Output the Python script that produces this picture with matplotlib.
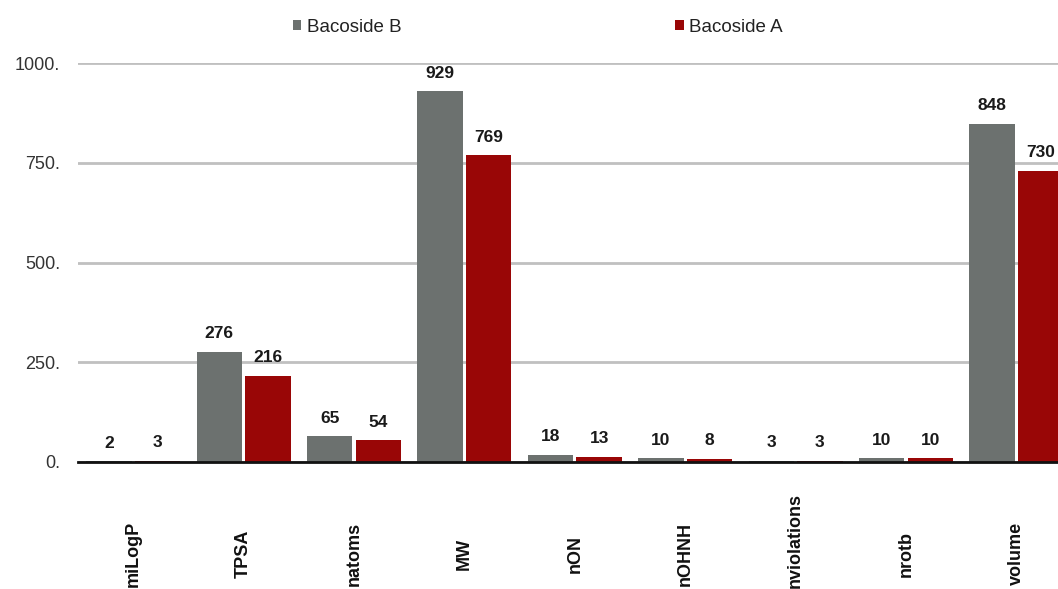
import matplotlib
matplotlib.use("Agg")
import matplotlib.pyplot as plt
import matplotlib.transforms as mtransforms
import numpy as np
from matplotlib.ticker import FuncFormatter

# Descriptor values for the two compounds
properties = ["miLogP", "TPSA", "natoms", "MW", "nON", "nOHNH",
              "nviolations", "nrotb", "volume"]
bacoside_b = [2, 276, 65, 929, 18, 10, 3, 10, 848]
bacoside_a = [3, 216, 54, 769, 13, 8, 3, 10, 730]
y_ticks = [0, 250, 500, 750, 1000]

GREY = "#6c716f"
RED = "#990606"
BAR_W = 0.41
OFFSET = 0.22

plt.rcParams["font.family"] = ["Liberation Sans", "DejaVu Sans"]

W, H = 1058, 589
fig = plt.figure(figsize=(W / 100, H / 100), dpi=100)
# axes run past the right edge of the figure, so the last bar is cut off
ax = fig.add_axes([78 / W, (H - 462) / H, 993.6 / W, 399 / H])

x = np.arange(len(properties))
bars_b = ax.bar(x - OFFSET, bacoside_b, BAR_W, color=GREY, label="Bacoside B", zorder=3)
bars_a = ax.bar(x + OFFSET, bacoside_a, BAR_W, color=RED, label="Bacoside A", zorder=3)

for bars, vals in ((bars_b, bacoside_b), (bars_a, bacoside_a)):
    for b, v in zip(bars, vals):
        ax.annotate(str(v), (b.get_x() + b.get_width() / 2, v),
                    xytext=(0, 7.5), textcoords="offset points",
                    ha="center", va="bottom", fontsize=12.5,
                    fontweight="bold", color="#1a1a1a", clip_on=False)

ax.set_xlim(-0.5, len(properties) - 0.5)
ax.set_ylim(0, 1000)
ax.set_yticks(y_ticks)
ax.yaxis.set_major_formatter(FuncFormatter(lambda v, p: f"{v:.0f}."))
ax.yaxis.grid(True, color="#c0c0c0", linewidth=2, zorder=0)
ax.tick_params(axis="y", length=0, pad=13, labelsize=13, labelcolor="#333333")

ax.set_xticks(x)
ax.set_xticklabels(properties, rotation=90, fontsize=13, fontweight="bold",
                   color="#111111")
ax.tick_params(axis="x", length=0, pad=66)
for lbl in ax.get_xticklabels():
    lbl.set_va("center")
    if lbl.get_text() == "nviolations":
        # long label: lift it so it stays inside the figure
        lbl.set_transform(lbl.get_transform() +
                          mtransforms.ScaledTranslation(0, 0.13, fig.dpi_scale_trans))

for side in ("top", "right", "left"):
    ax.spines[side].set_visible(False)
ax.spines["bottom"].set_color("#111111")
ax.spines["bottom"].set_linewidth(2)
ax.spines["bottom"].set_zorder(4)

leg = fig.legend(handles=[bars_b, bars_a], loc="center",
                 bbox_to_anchor=(538 / W, 1 - 27 / H), ncol=2, frameon=False,
                 fontsize=13.5, handlelength=0.45, handleheight=0.45,
                 handletextpad=0.3, columnspacing=14.6)
for t in leg.get_texts():
    t.set_color("#222222")

fig.savefig("out.png", dpi=100)
